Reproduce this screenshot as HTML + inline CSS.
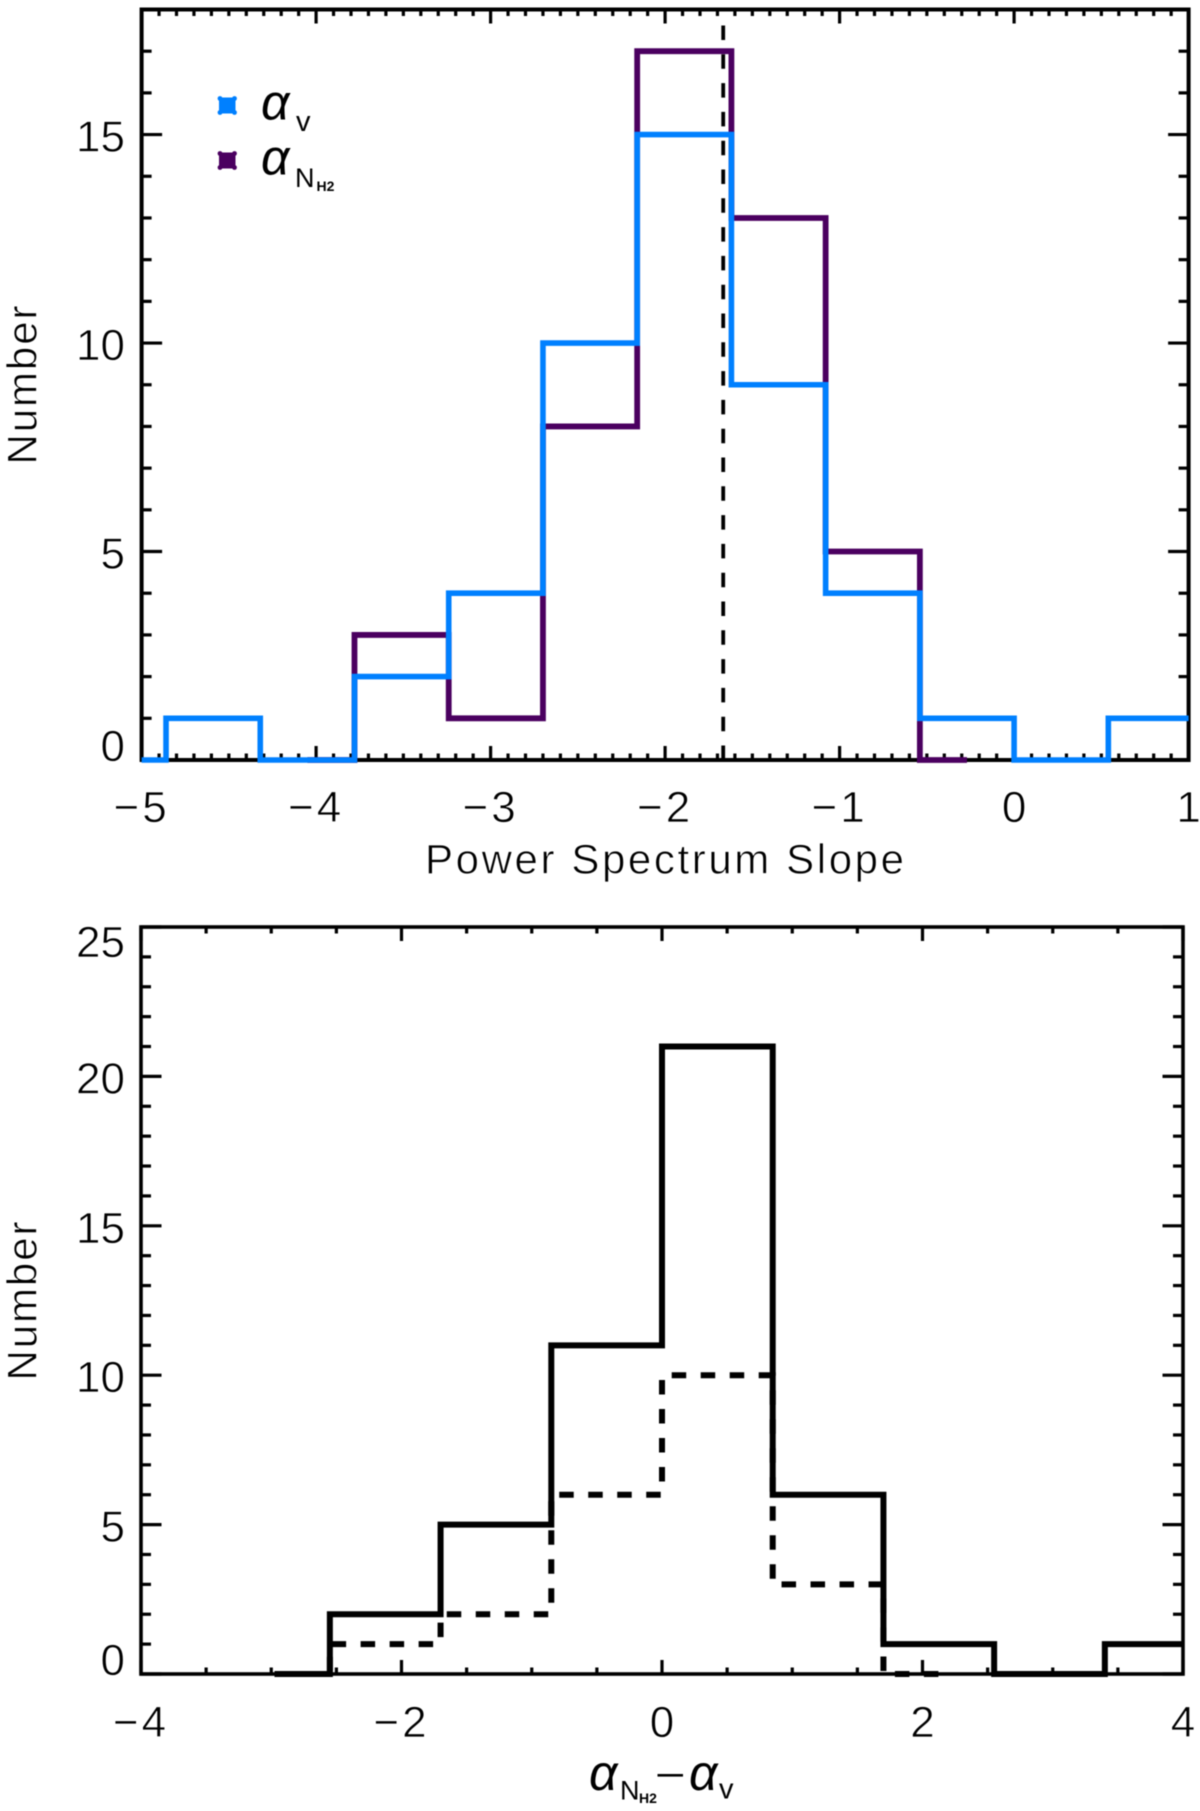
<!DOCTYPE html>
<html lang="en">
<head>
<meta charset="utf-8">
<title>Power spectrum slope histograms</title>
<style>
  html, body { margin: 0; padding: 0; background: #fff; }
  svg { display: block; filter: blur(0.4px); }
  text { font-family: "Liberation Sans", "DejaVu Sans", sans-serif; fill: #000; }
  .thin { stroke: #fff; stroke-width: 0.7px; }
</style>
</head>
<body>
<svg id="chart" xmlns="http://www.w3.org/2000/svg" width="1200" height="1811" viewBox="0 0 1200 1811">
  <rect x="0" y="0" width="1200" height="1811" fill="#fff"/>
  <g id="top-plot"></g>
  <g id="bottom-plot"></g>

  <text class="thin" x="425" y="873.5" font-size="42" textLength="479" lengthAdjust="spacing">Power Spectrum Slope</text>
  <text class="thin" transform="translate(36.5 385) rotate(-90)" text-anchor="middle" font-size="42" textLength="159" lengthAdjust="spacing">Number</text>
  <text class="thin" transform="translate(36.5 1301) rotate(-90)" text-anchor="middle" font-size="42" textLength="159" lengthAdjust="spacing">Number</text>

  <g>
    <g>
      <g fill="#0080ff">
        <rect x="219" y="97.5" width="16.5" height="16"/>
        <circle cx="220" cy="98.5" r="2.4"/><circle cx="234.5" cy="98.5" r="2.4"/>
        <circle cx="220" cy="112.5" r="2.4"/><circle cx="234.5" cy="112.5" r="2.4"/>
      </g>
      <text x="261" y="119.5" font-size="50" font-style="italic">α</text>
      <text x="296" y="131" font-size="29">v</text>
    </g>
    <g>
      <g fill="#4b0060">
        <rect x="219" y="152.5" width="16.5" height="16"/>
        <circle cx="220" cy="153.5" r="2.4"/><circle cx="234.5" cy="153.5" r="2.4"/>
        <circle cx="220" cy="167.5" r="2.4"/><circle cx="234.5" cy="167.5" r="2.4"/>
      </g>
      <text x="261" y="174.5" font-size="50" font-style="italic">α</text>
      <text x="295" y="187" font-size="27">N</text>
      <text x="316.5" y="191" font-size="14" font-weight="bold">H2</text>
    </g>
  </g>

  <g>
    <text x="589" y="1790" font-size="50" font-style="italic">α</text>
    <text x="620" y="1799.5" font-size="27">N</text>
    <text x="639" y="1803" font-size="14" font-weight="bold">H2</text>
    <rect x="657.5" y="1774" width="25.5" height="2.6" fill="#000"/>
    <text x="689" y="1790" font-size="50" font-style="italic">α</text>
    <text x="719" y="1798.5" font-size="29">v</text>
  </g>
</svg>

<script>
// ---- top panel data ----
const topXTickValues = [-5, -4, -3, -2, -1, 0, 1];
const topXTickLabels = ['−5', '−4', '−3', '−2', '−1', '0', '1'];
const topYTickValues = [0, 5, 10, 15];
const topYTickLabels = ['0', '5', '10', '15'];
const velocityEdges = [-5, -4.86, -4.32, -3.78, -3.24, -2.7, -2.16, -1.62, -1.08, -0.54, 0, 0.54, 1];
const velocityCounts = [0, 1, 0, 2, 4, 10, 15, 9, 4, 1, 0, 1];
const columnDensityEdges = [-4.05, -3.78, -3.24, -2.7, -2.16, -1.62, -1.08, -0.54, -0.27];
const columnDensityCounts = [0, 3, 1, 8, 17, 13, 5, 0];
const meanSlope = [-1.667];

// ---- bottom panel data ----
const bottomXTickValues = [-4, -2, 0, 2, 4];
const bottomXTickLabels = ['−4', '−2', '0', '2', '4'];
const bottomYTickValues = [0, 5, 10, 15, 20, 25];
const bottomYTickLabels = ['0', '5', '10', '15', '20', '25'];
const differenceEdges = [-2.975, -2.55, -1.7, -0.85, 0, 0.85, 1.7, 2.55, 3.4, 4];
const differenceCounts = [0, 2, 5, 11, 21, 6, 1, 0, 1];
const subsetEdges = [-2.975, -2.55, -1.7, -0.85, 0, 0.85, 1.7, 2.125];
const subsetCounts = [0, 1, 2, 6, 10, 3, 0];

const SVG_NS = 'http://www.w3.org/2000/svg';

function scale(d0, d1, r0, r1) {
  return function (v) { return r0 + (v - d0) * (r1 - r0) / (d1 - d0); };
}

function drawLine(parent, name, x1, y1, x2, y2, width) {
  const el = document.createElementNS(SVG_NS, 'line');
  
  
  el.setAttribute('x1', x1);
  el.setAttribute('y1', y1);
  el.setAttribute('x2', x2);
  el.setAttribute('y2', y2);
  el.setAttribute('stroke', '#000');
  el.setAttribute('stroke-width', width);
  parent.appendChild(el);
  return el;
}

function drawLabel(parent, name, x, y, anchor, content) {
  const el = document.createElementNS(SVG_NS, 'text');
  
  
  el.setAttribute('class', 'thin');
  el.setAttribute('x', x);
  el.setAttribute('y', y);
  el.setAttribute('text-anchor', anchor);
  el.setAttribute('font-size', '44');
  if (content.charAt(0) === '−') el.setAttribute('letter-spacing', '3');
  el.textContent = content;
  parent.appendChild(el);
  return el;
}

function drawAxes(parent, cfg) {
  const x = cfg.x, y = cfg.y;
  const left = x(cfg.xMin), right = x(cfg.xMax), top = y(cfg.yMax), bottom = y(0);

  const frame = document.createElementNS(SVG_NS, 'rect');
  
  
  frame.setAttribute('x', left);
  frame.setAttribute('y', top);
  frame.setAttribute('width', right - left);
  frame.setAttribute('height', bottom - top);
  frame.setAttribute('fill', 'none');
  frame.setAttribute('stroke', '#000');
  frame.setAttribute('stroke-width', cfg.frameWidth);
  parent.appendChild(frame);

  const nx = Math.round((cfg.xMax - cfg.xMin) / cfg.xMinorStep);
  for (let i = 0; i <= nx; i++) {
    const v = cfg.xMin + i * cfg.xMinorStep;
    const isMajor = cfg.xTicks.some(function (t) { return Math.abs(t - v) < 1e-6; });
    const len = isMajor ? 14 : 6.5;
    drawLine(parent, cfg.prefix + '-x-tick-bottom', x(v), bottom, x(v), bottom - len, 3.2);
    drawLine(parent, cfg.prefix + '-x-tick-top', x(v), top, x(v), top + len, 3.2);
  }
  for (let v = 0; v <= cfg.yMax; v++) {
    const isMajor = cfg.yTicks.indexOf(v) >= 0;
    const len = isMajor ? 20.5 : 10;
    drawLine(parent, cfg.prefix + '-y-tick-left', left, y(v), left + len, y(v), 3.2);
    drawLine(parent, cfg.prefix + '-y-tick-right', right, y(v), right - len, y(v), 3.2);
  }
  cfg.xTicks.forEach(function (v, i) {
    drawLabel(parent, cfg.prefix + '-x-tick-label', x(v), cfg.xLabelY, 'middle', cfg.xLabels[i]);
  });
  cfg.yTicks.forEach(function (v, i) {
    const shift = v === 0 ? 1 : (v === cfg.yMax ? 30 : 17);
    drawLabel(parent, cfg.prefix + '-y-tick-label', 125, y(v) + shift, 'end', cfg.yLabels[i]);
  });
}

function drawStep(parent, name, edges, counts, x, y, color, width, dash) {
  let d = 'M' + x(edges[0]) + ' ' + y(counts[0]);
  counts.forEach(function (c, i) {
    d += ' L' + x(edges[i]) + ' ' + y(c) + ' L' + x(edges[i + 1]) + ' ' + y(c);
  });
  const el = document.createElementNS(SVG_NS, 'path');
  
  
  el.setAttribute('d', d);
  el.setAttribute('fill', 'none');
  el.setAttribute('stroke', color);
  el.setAttribute('stroke-width', width);
  el.setAttribute('stroke-linejoin', 'miter');
  if (dash) el.setAttribute('stroke-dasharray', dash);
  parent.appendChild(el);
  return el;
}

// ---- top panel ----
const topGroup = document.getElementById('top-plot');
const topX = scale(-5, 1, 141.6, 1188.6);
const topY = scale(0, 18, 760, 9.5);
drawAxes(topGroup, {
  prefix: 'top', x: topX, y: topY, xMin: -5, xMax: 1, yMax: 18, xMinorStep: 0.1,
  xTicks: topXTickValues, xLabels: topXTickLabels,
  yTicks: topYTickValues, yLabels: topYTickLabels,
  xLabelY: 822, frameWidth: 4
});
const meanLine = drawLine(topGroup, 'mean-slope-line', topX(meanSlope[0]), topY(0), topX(meanSlope[0]), topY(18), 3.8);
meanLine.setAttribute('stroke-dasharray', '14.5 14.3');
drawStep(topGroup, 'column-density-histogram', columnDensityEdges, columnDensityCounts, topX, topY, '#4b0060', 5.8);
drawStep(topGroup, 'velocity-histogram', velocityEdges, velocityCounts, topX, topY, '#0080ff', 5.6);

// ---- bottom panel ----
const bottomGroup = document.getElementById('bottom-plot');
const bottomX = scale(-4, 4, 141, 1183);
const bottomY = scale(0, 25, 1674, 927);
drawAxes(bottomGroup, {
  prefix: 'bottom', x: bottomX, y: bottomY, xMin: -4, xMax: 4, yMax: 25, xMinorStep: 0.5,
  xTicks: bottomXTickValues, xLabels: bottomXTickLabels,
  yTicks: bottomYTickValues, yLabels: bottomYTickLabels,
  xLabelY: 1737, frameWidth: 3.6
});
drawStep(bottomGroup, 'subset-difference-histogram', subsetEdges, subsetCounts, bottomX, bottomY, '#000', 6, '14.5 14.5');
drawStep(bottomGroup, 'difference-histogram', differenceEdges, differenceCounts, bottomX, bottomY, '#000', 6);
</script>
</body>
</html>
